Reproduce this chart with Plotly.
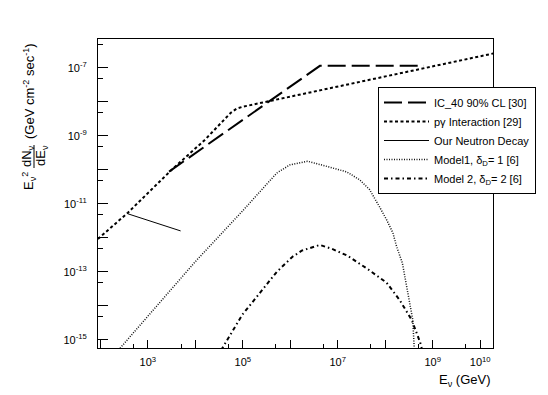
import plotly.graph_objects as go

# IC_40 90% CL upper limit
ic40_e = [2.8e3, 4.2e6, 6.5e8]
ic40_f = [8.9e-11, 1.15e-7, 1.15e-7]

# p-gamma interaction
pg_e = [89, 380, 3.16e3, 1.58e4, 5.6e4, 7.4e4, 1.0e5, 2.0e10]
pg_f = [9.3e-13, 5.5e-12, 1.0e-10, 7.6e-10, 4.8e-9, 6.3e-9, 7.2e-9, 2.7e-7]

# our neutron decay
nd_e = [380, 4.9e3]
nd_f = [5.1e-12, 1.6e-12]

# Model 1, delta_D = 1
m1_e = [240, 1.0e4, 1.0e5, 5.2e5, 9.8e5, 2.3e6, 6.8e6, 1.55e7, 2.9e7, 4.7e7, 7.6e7,
        1.07e8, 1.45e8, 1.74e8, 2.3e8, 2.95e8, 3.8e8, 4.1e8]
m1_f = [5.0e-16, 2.0e-13, 6.3e-12, 8.1e-11, 1.4e-10, 1.8e-10, 1.2e-10, 8.7e-11, 5.1e-11, 2.6e-11, 8.1e-12,
        3.4e-12, 1.4e-12, 5.5e-13, 1.8e-13, 3.0e-14, 3.9e-15, 5.0e-16]

# Model 2, delta_D = 2
m2_e = [3.5e4, 9.8e4, 5.2e5, 1.1e6, 1.74e6, 4.2e6, 7.4e6, 1.6e7, 4.3e7, 1.07e8, 2.0e8, 3.6e8, 5.4e8, 6.0e8]
m2_f = [5.0e-16, 5.5e-15, 1.0e-13, 2.75e-13, 4.2e-13, 6.2e-13, 4.8e-13, 3.0e-13, 1.2e-13, 4.8e-14, 1.5e-14,
        3.9e-15, 8.7e-16, 5.0e-16]

x_ticks = [1e2, 1e3, 1e4, 1e5, 1e6, 1e7, 1e8, 1e9, 1e10]
x_labels = ["", "10<sup>3</sup>", "", "10<sup>5</sup>", "", "10<sup>7</sup>", "", "10<sup>9</sup>", "10<sup>10</sup>"]
x_minor = [5e2, 5e3, 5e4, 5e5, 5e6, 5e7, 5e8, 5e9]

y_ticks = [1e-15, 1e-14, 1e-13, 1e-12, 1e-11, 1e-10, 1e-9, 1e-8, 1e-7]
y_labels = ["10<sup>-15</sup>", "", "10<sup>-13</sup>", "", "10<sup>-11</sup>", "", "10<sup>-9</sup>", "", "10<sup>-7</sup>"]
y_minor = [5e-16, 5e-15, 5e-14, 5e-13, 5e-12, 5e-11, 5e-10, 5e-9, 5e-8, 5e-7]

FONT = "Liberation Sans, Arial, sans-serif"
W, H = 548, 395
L, R, T, B = 98, 55, 39, 47
PW, PH = W - L - R, H - T - B

fig = go.Figure()
fig.add_trace(go.Scatter(x=ic40_e, y=ic40_f, mode="lines", name="IC_40 90% CL [30]",
                         line=dict(color="black", width=2, dash="18px,6px")))
fig.add_trace(go.Scatter(x=pg_e, y=pg_f, mode="lines", name="pγ Interaction [29]",
                         line=dict(color="black", width=2, dash="3px,2.5px")))
fig.add_trace(go.Scatter(x=nd_e, y=nd_f, mode="lines", name="Our Neutron Decay",
                         line=dict(color="black", width=1)))
fig.add_trace(go.Scatter(x=m1_e, y=m1_f, mode="lines", name="Model1, δ<sub>D</sub>= 1 [6]",
                         line=dict(color="#111111", width=1.5, dash="1px,1.5px")))
fig.add_trace(go.Scatter(x=m2_e, y=m2_f, mode="lines", name="Model 2, δ<sub>D</sub>= 2 [6]",
                         line=dict(color="black", width=2, dash="4px,3px,1.5px,3px")))


def px_x(px):
    return (px - L) / PW


def px_y(py):
    return (H - B - py) / PH


# y axis title built from pieces (ROOT-style fraction)
ann = dict(xref="paper", yref="paper", showarrow=False, textangle=-90,
           xanchor="center", yanchor="middle",
           font=dict(family=FONT, size=13, color="black"))
fig.add_annotation(text="E<sub>ν</sub><sup>2</sup>", x=px_x(29), y=px_y(181), **ann)
fig.add_annotation(text="dN<sub>ν</sub>", x=px_x(27), y=px_y(156), **ann)
fig.add_annotation(text="dE<sub>ν</sub>", x=px_x(41), y=px_y(156), **ann)
fig.add_annotation(text="(GeV cm<sup>-2</sup> sec<sup>-1</sup>)", x=px_x(29), y=px_y(91), **ann)
fig.add_shape(type="line", xref="paper", yref="paper", x0=px_x(34), x1=px_x(34),
              y0=px_y(145), y1=px_y(168), line=dict(color="black", width=1))

fig.add_annotation(text="E<sub>ν</sub> (GeV)", xref="paper", yref="paper", x=1, y=px_y(380),
                   xanchor="right", yanchor="middle", showarrow=False,
                   font=dict(family=FONT, size=13, color="black"))

axis_common = dict(type="log", showgrid=False, zeroline=False, showline=True, mirror=True,
                   linecolor="black", linewidth=1, ticks="inside", tickcolor="black",
                   tickwidth=1, tickmode="array", tickfont=dict(family=FONT, size=11, color="black"))

fig.update_xaxes(range=[1.95, 10.27], tickvals=x_ticks, ticktext=x_labels, ticklen=8,
                 ticklabelstandoff=4,
                 minor=dict(tickmode="array", tickvals=x_minor, ticks="inside", ticklen=4,
                            tickcolor="black", tickwidth=1),
                 **axis_common)
fig.update_yaxes(range=[-15.24, -6.15], tickvals=y_ticks, ticktext=y_labels, ticklen=10,
                 ticklabelstandoff=8,
                 minor=dict(tickmode="array", tickvals=y_minor, ticks="inside", ticklen=5,
                            tickcolor="black", tickwidth=1),
                 **axis_common)

fig.update_layout(
    width=W, height=H,
    margin=dict(l=L, r=R, t=T, b=B, autoexpand=False),
    paper_bgcolor="white", plot_bgcolor="white",
    font=dict(family=FONT, size=11, color="black"),
    showlegend=True,
    legend=dict(x=px_x(378), y=px_y(87), xanchor="left", yanchor="top",
                bgcolor="white", bordercolor="black", borderwidth=1,
                font=dict(family=FONT, size=11, color="black"),
                itemwidth=45, tracegroupgap=0),
)

fig.write_html("out.html", config={"displayModeBar": False},
               post_script="document.body.style.margin='0px';")
